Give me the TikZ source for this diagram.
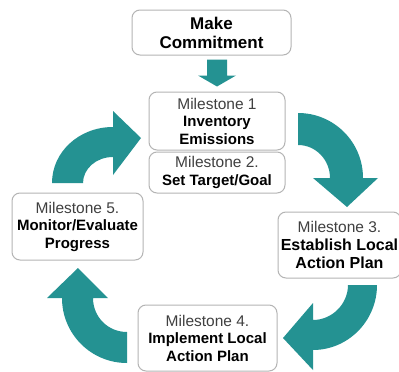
\documentclass[tikz,border=0pt]{standalone}
\usepackage{fontspec}
\setmainfont{Liberation Sans}
\usetikzlibrary{calc}
\definecolor{teal1}{RGB}{36,146,146}
\definecolor{boxgray}{RGB}{180,180,180}
\definecolor{txtgray}{RGB}{64,64,64}
\newcommand{\milest}[1]{{\fontseries{m}\selectfont\fontsize{15.5}{17.5}\selectfont\color{txtgray}#1}}
\tikzset{
  mbox/.style={draw=boxgray, line width=1pt, rounded corners=8pt, fill=white,
    align=center, inner sep=0pt, font=\bfseries\fontsize{15}{17.5}\selectfont},
  tealshape/.style={fill=teal1, draw=none},
}
\begin{document}
\begin{tikzpicture}[x=1pt,y=-1pt]
\fill[white] (0,0) rectangle (399,372);
\useasboundingbox (0,0) rectangle (399,372);

% boxes
\node[mbox, minimum width=159pt, minimum height=45pt,
  font=\bfseries\fontsize{17}{19}\selectfont] (mc) at (211.5,32.5) {Make\\Commitment};
\node[mbox, minimum width=136pt, minimum height=58pt] (m1) at (217,121)
  {\milest{Milestone 1}\\Inventory\\Emissions};
\node[mbox, minimum width=136pt, minimum height=41pt] (m2) at (217,172.5)
  {\milest{Milestone 2.}\\Set Target/Goal};
\node[mbox, minimum width=131pt, minimum height=67pt] (m5) at (77.5,226.5)
  {\milest{Milestone 5.}\\Monitor/Evaluate\\Progress};
\node[mbox, minimum width=123pt, minimum height=66pt,
  font=\bfseries\fontsize{16}{18}\selectfont] (m3) at (339.5,245)
  {\milest{Milestone 3.}\\Establish Local\\Action Plan};
\node[mbox, minimum width=139pt, minimum height=66pt] (m4) at (207.5,338)
  {\milest{Milestone 4.}\\Implement Local\\Action Plan};

% down arrow from commitment to milestone 1
\fill[tealshape] ($(m1.north)+(-10,-32)$) -- ($(m1.north)+(10,-32)$)
  -- ($(m1.north)+(10,-16)$) -- ($(m1.north)+(19,-16)$)
  -- ($(m1.north)+(0,-5)$) -- ($(m1.north)+(-19,-16)$)
  -- ($(m1.north)+(-10,-16)$) -- cycle;

% curved cycle arrows
\fill[tealshape] (52,183) .. controls (52,152) and (79,127) .. (113,127)
  -- (113,111) -- (141,138) -- (113,175) -- (113,157)
  .. controls (96,157) and (83,169) .. (83,183) -- cycle;
\fill[tealshape] (298,113) .. controls (334,113) and (363,142) .. (363,178)
  -- (378,178) -- (347,207) -- (313,178) -- (330,178)
  .. controls (330,160) and (316,145) .. (298,145) -- cycle;
\fill[tealshape] (377,285) .. controls (377,321) and (348,350) .. (313,350)
  -- (313,370) -- (283,338) -- (313,303) -- (313,320)
  .. controls (332,320) and (348,304) .. (348,285) -- cycle;
\fill[tealshape] (127,363) .. controls (91,363) and (62,334) .. (62,298)
  -- (47,298) -- (78,268) -- (108,298) -- (93,298)
  .. controls (93,317) and (108,332) .. (127,332) -- cycle;
\end{tikzpicture}
\end{document}
